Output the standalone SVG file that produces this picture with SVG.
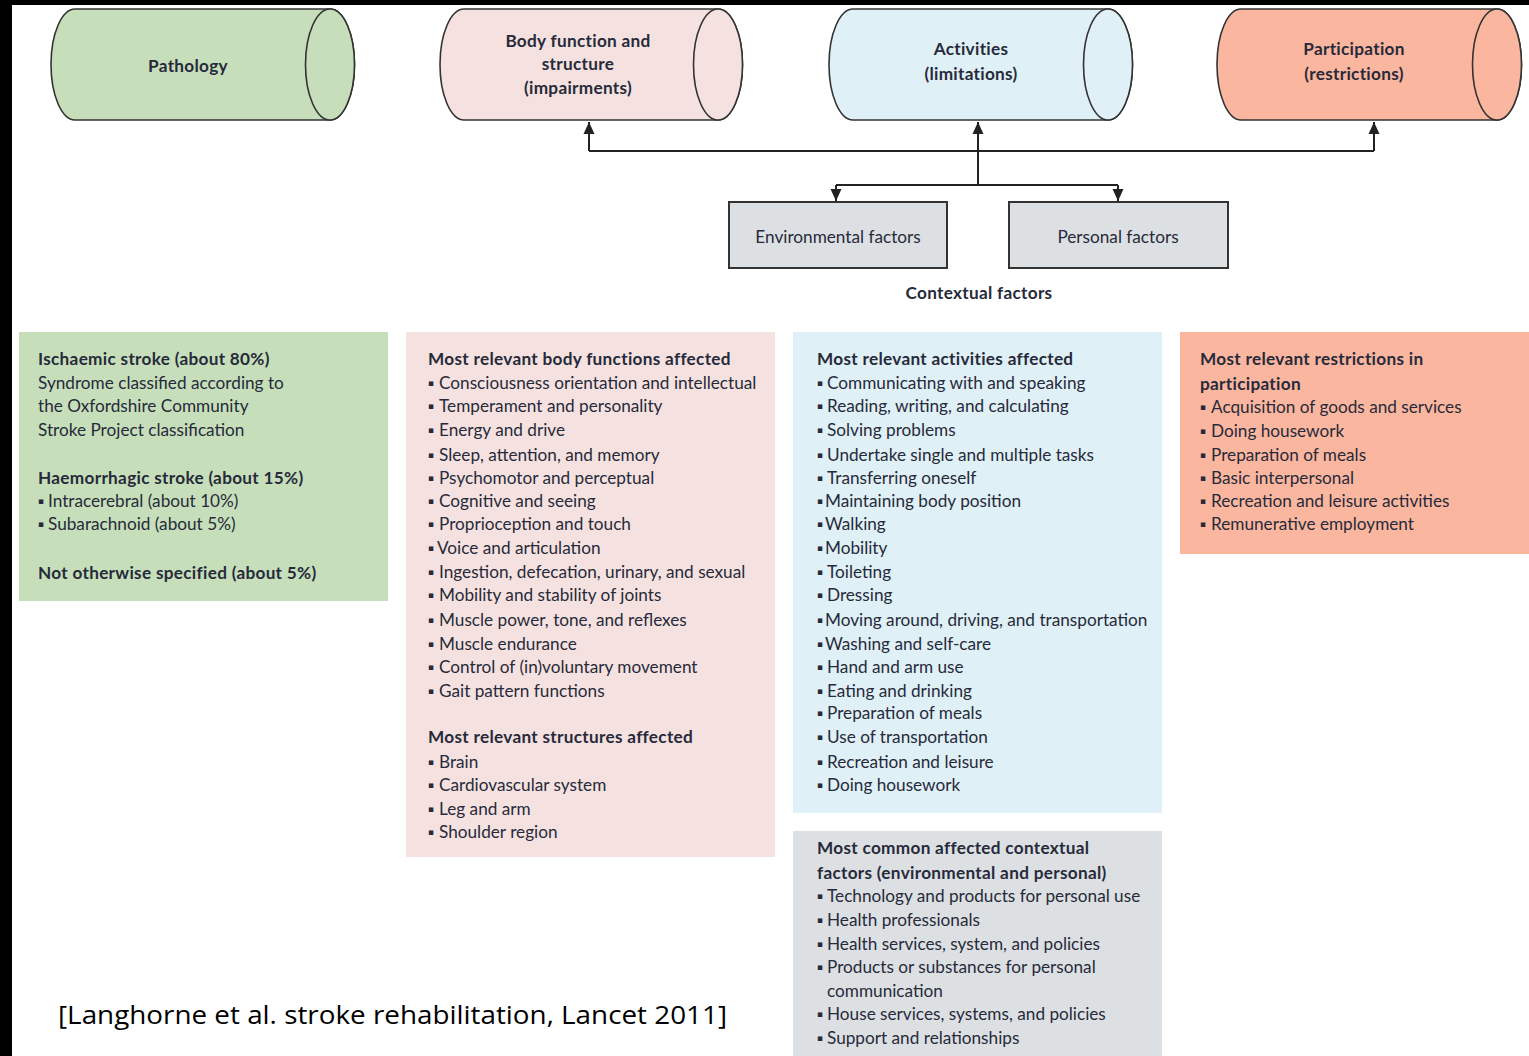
<svg xmlns="http://www.w3.org/2000/svg" width="1529" height="1056" viewBox="0 0 1529 1056">
<style>
.t{font-family:Lato,"Liberation Sans",sans-serif;font-size:17.2px;fill:#272a3a}
.b{font-weight:bold;letter-spacing:0.3px}
.hd{font-family:Lato,"Liberation Sans",sans-serif;font-size:17.2px;font-weight:bold;letter-spacing:0.3px;fill:#272a3a;text-anchor:middle}
.cyl{stroke:#333;stroke-width:1.6}
.bx{fill:#dde0e3;stroke:#333;stroke-width:2}
.cn{fill:none;stroke:#222;stroke-width:2}
.bu{font-family:"DejaVu Sans",sans-serif;font-size:9px;fill:#272a3a}
</style>
<defs>
<marker id="ar" viewBox="0 0 12 12" refX="12" refY="6" markerWidth="12" markerHeight="13" markerUnits="userSpaceOnUse" orient="auto">
<path d="M0,0.5 L12,6 L0,11.5 Z" fill="#222"/>
</marker>
</defs>
<rect x="0" y="0" width="1529" height="1056" fill="#fff"/>
<rect x="0" y="0" width="1529" height="5" fill="#000"/>
<rect x="0" y="0" width="12" height="1056" fill="#000"/>

<g id="pathology">
<path class="cyl" fill="#c6dfba" d="M75,9 H330 A24.5,55.5 0 0 1 330,120 H75 A24,55.5 0 0 1 75,9 Z"/>
<ellipse class="cyl" fill="#c6dfba" cx="330" cy="64.5" rx="24.5" ry="55.5"/>
<text class="hd" x="188" y="72">Pathology</text>
</g>
<g id="body">
<path class="cyl" fill="#f5e2e0" d="M464,9 H718 A24.5,55.5 0 0 1 718,120 H464 A24,55.5 0 0 1 464,9 Z"/>
<ellipse class="cyl" fill="#f5e2e0" cx="718" cy="64.5" rx="24.5" ry="55.5"/>
<text class="hd" x="578" y="47">Body function and</text>
<text class="hd" x="578" y="70">structure</text>
<text class="hd" x="578" y="94">(impairments)</text>
</g>
<g id="activities">
<path class="cyl" fill="#dff0f7" d="M853,9 H1108 A24.5,55.5 0 0 1 1108,120 H853 A24,55.5 0 0 1 853,9 Z"/>
<ellipse class="cyl" fill="#dff0f7" cx="1108" cy="64.5" rx="24.5" ry="55.5"/>
<text class="hd" x="971" y="55">Activities</text>
<text class="hd" x="971" y="80">(limitations)</text>
</g>
<g id="participation">
<path class="cyl" fill="#fbb69f" d="M1241,9 H1497 A24.5,55.5 0 0 1 1497,120 H1241 A24,55.5 0 0 1 1241,9 Z"/>
<ellipse class="cyl" fill="#fbb69f" cx="1497" cy="64.5" rx="24.5" ry="55.5"/>
<text class="hd" x="1354" y="55">Participation</text>
<text class="hd" x="1354" y="80">(restrictions)</text>
</g>

<g id="env">
<rect class="bx" x="729" y="202" width="218" height="66"/>
<text class="t" x="838" y="243" text-anchor="middle" font-size="17.8">Environmental factors</text>
</g>
<g id="pers">
<rect class="bx" x="1009" y="202" width="219" height="66"/>
<text class="t" x="1118" y="243" text-anchor="middle" font-size="17.8">Personal factors</text>
</g>
<g id="contextual">
<text class="hd" x="979" y="299">Contextual factors</text>
</g>

<g id="connectors">
<path class="cn" d="M589,151 H1374"/>
<path class="cn" d="M589,151 V122" marker-end="url(#ar)"/>
<path class="cn" d="M978,185 V122" marker-end="url(#ar)"/>
<path class="cn" d="M1374,151 V122" marker-end="url(#ar)"/>
<path class="cn" d="M836,185 H1118"/>
<path class="cn" d="M836,185 V201" marker-end="url(#ar)"/>
<path class="cn" d="M1118,185 V201" marker-end="url(#ar)"/>
</g>

<g id="panel-pathology">
<rect x="19" y="332" width="369" height="269" fill="#c6dfba"/>
<text class="t b" x="38" y="365">Ischaemic stroke (about 80%)</text>
<text class="t" x="38" y="389">Syndrome classified according to</text>
<text class="t" x="38" y="412">the Oxfordshire Community</text>
<text class="t" x="38" y="436">Stroke Project classification</text>
<text class="t b" x="38" y="484">Haemorrhagic stroke (about 15%)</text>
<text class="t" x="38" y="507"><tspan class="bu" dy="-3">▪</tspan><tspan x="48" dy="3">Intracerebral (about 10%)</tspan></text>
<text class="t" x="38" y="530"><tspan class="bu" dy="-3">▪</tspan><tspan x="48" dy="3">Subarachnoid (about 5%)</tspan></text>
<text class="t b" x="38" y="579">Not otherwise specified (about 5%)</text>
</g>

<g id="panel-body">
<rect x="406" y="332" width="369" height="525" fill="#f5e2e0"/>
<text class="t b" x="428" y="365">Most relevant body functions affected</text>
<text class="t" x="428" y="389"><tspan class="bu" dy="-3">▪</tspan><tspan x="439" dy="3">Consciousness orientation and intellectual</tspan></text>
<text class="t" x="428" y="412"><tspan class="bu" dy="-3">▪</tspan><tspan x="439" dy="3">Temperament and personality</tspan></text>
<text class="t" x="428" y="436"><tspan class="bu" dy="-3">▪</tspan><tspan x="439" dy="3">Energy and drive</tspan></text>
<text class="t" x="428" y="461"><tspan class="bu" dy="-3">▪</tspan><tspan x="439" dy="3">Sleep, attention, and memory</tspan></text>
<text class="t" x="428" y="484"><tspan class="bu" dy="-3">▪</tspan><tspan x="439" dy="3">Psychomotor and perceptual</tspan></text>
<text class="t" x="428" y="507"><tspan class="bu" dy="-3">▪</tspan><tspan x="439" dy="3">Cognitive and seeing</tspan></text>
<text class="t" x="428" y="530"><tspan class="bu" dy="-3">▪</tspan><tspan x="439" dy="3">Proprioception and touch</tspan></text>
<text class="t" x="428" y="554"><tspan class="bu" dy="-3">▪</tspan><tspan x="437" dy="3">Voice and articulation</tspan></text>
<text class="t" x="428" y="578"><tspan class="bu" dy="-3">▪</tspan><tspan x="439" dy="3">Ingestion, defecation, urinary, and sexual</tspan></text>
<text class="t" x="428" y="601"><tspan class="bu" dy="-3">▪</tspan><tspan x="439" dy="3">Mobility and stability of joints</tspan></text>
<text class="t" x="428" y="626"><tspan class="bu" dy="-3">▪</tspan><tspan x="439" dy="3">Muscle power, tone, and reflexes</tspan></text>
<text class="t" x="428" y="650"><tspan class="bu" dy="-3">▪</tspan><tspan x="439" dy="3">Muscle endurance</tspan></text>
<text class="t" x="428" y="673"><tspan class="bu" dy="-3">▪</tspan><tspan x="439" dy="3">Control of (in)voluntary movement</tspan></text>
<text class="t" x="428" y="697"><tspan class="bu" dy="-3">▪</tspan><tspan x="439" dy="3">Gait pattern functions</tspan></text>
<text class="t b" x="428" y="743">Most relevant structures affected</text>
<text class="t" x="428" y="768"><tspan class="bu" dy="-3">▪</tspan><tspan x="439" dy="3">Brain</tspan></text>
<text class="t" x="428" y="791"><tspan class="bu" dy="-3">▪</tspan><tspan x="439" dy="3">Cardiovascular system</tspan></text>
<text class="t" x="428" y="815"><tspan class="bu" dy="-3">▪</tspan><tspan x="439" dy="3">Leg and arm</tspan></text>
<text class="t" x="428" y="838"><tspan class="bu" dy="-3">▪</tspan><tspan x="439" dy="3">Shoulder region</tspan></text>
</g>

<g id="panel-activities">
<rect x="793" y="332" width="369" height="481" fill="#dff0f7"/>
<text class="t b" x="817" y="365">Most relevant activities affected</text>
<text class="t" x="817" y="389"><tspan class="bu" dy="-3">▪</tspan><tspan x="827" dy="3">Communicating with and speaking</tspan></text>
<text class="t" x="817" y="412"><tspan class="bu" dy="-3">▪</tspan><tspan x="827" dy="3">Reading, writing, and calculating</tspan></text>
<text class="t" x="817" y="436"><tspan class="bu" dy="-3">▪</tspan><tspan x="827" dy="3">Solving problems</tspan></text>
<text class="t" x="817" y="461"><tspan class="bu" dy="-3">▪</tspan><tspan x="827" dy="3">Undertake single and multiple tasks</tspan></text>
<text class="t" x="817" y="484"><tspan class="bu" dy="-3">▪</tspan><tspan x="827" dy="3">Transferring oneself</tspan></text>
<text class="t" x="817" y="507"><tspan class="bu" dy="-3">▪</tspan><tspan x="825" dy="3">Maintaining body position</tspan></text>
<text class="t" x="817" y="530"><tspan class="bu" dy="-3">▪</tspan><tspan x="825" dy="3">Walking</tspan></text>
<text class="t" x="817" y="554"><tspan class="bu" dy="-3">▪</tspan><tspan x="825" dy="3">Mobility</tspan></text>
<text class="t" x="817" y="578"><tspan class="bu" dy="-3">▪</tspan><tspan x="827" dy="3">Toileting</tspan></text>
<text class="t" x="817" y="601"><tspan class="bu" dy="-3">▪</tspan><tspan x="827" dy="3">Dressing</tspan></text>
<text class="t" x="817" y="626"><tspan class="bu" dy="-3">▪</tspan><tspan x="825" dy="3">Moving around, driving, and transportation</tspan></text>
<text class="t" x="817" y="650"><tspan class="bu" dy="-3">▪</tspan><tspan x="825" dy="3">Washing and self-care</tspan></text>
<text class="t" x="817" y="673"><tspan class="bu" dy="-3">▪</tspan><tspan x="827" dy="3">Hand and arm use</tspan></text>
<text class="t" x="817" y="697"><tspan class="bu" dy="-3">▪</tspan><tspan x="827" dy="3">Eating and drinking</tspan></text>
<text class="t" x="817" y="719"><tspan class="bu" dy="-3">▪</tspan><tspan x="827" dy="3">Preparation of meals</tspan></text>
<text class="t" x="817" y="743"><tspan class="bu" dy="-3">▪</tspan><tspan x="827" dy="3">Use of transportation</tspan></text>
<text class="t" x="817" y="768"><tspan class="bu" dy="-3">▪</tspan><tspan x="827" dy="3">Recreation and leisure</tspan></text>
<text class="t" x="817" y="791"><tspan class="bu" dy="-3">▪</tspan><tspan x="827" dy="3">Doing housework</tspan></text>
</g>

<g id="panel-participation">
<rect x="1180" y="332" width="349" height="222" fill="#fbb69f"/>
<text class="t b" x="1200" y="365">Most relevant restrictions in</text>
<text class="t b" x="1200" y="390">participation</text>
<text class="t" x="1200" y="413"><tspan class="bu" dy="-3">▪</tspan><tspan x="1211" dy="3">Acquisition of goods and services</tspan></text>
<text class="t" x="1200" y="437"><tspan class="bu" dy="-3">▪</tspan><tspan x="1211" dy="3">Doing housework</tspan></text>
<text class="t" x="1200" y="461"><tspan class="bu" dy="-3">▪</tspan><tspan x="1211" dy="3">Preparation of meals</tspan></text>
<text class="t" x="1200" y="484"><tspan class="bu" dy="-3">▪</tspan><tspan x="1211" dy="3">Basic interpersonal</tspan></text>
<text class="t" x="1200" y="507"><tspan class="bu" dy="-3">▪</tspan><tspan x="1211" dy="3">Recreation and leisure activities</tspan></text>
<text class="t" x="1200" y="530"><tspan class="bu" dy="-3">▪</tspan><tspan x="1211" dy="3">Remunerative employment</tspan></text>
</g>

<g id="panel-contextual">
<rect x="793" y="831" width="369" height="225" fill="#dde0e3"/>
<text class="t b" x="817" y="854">Most common affected contextual</text>
<text class="t b" x="817" y="879">factors (environmental and personal)</text>
<text class="t" x="817" y="902"><tspan class="bu" dy="-3">▪</tspan><tspan x="827" dy="3">Technology and products for personal use</tspan></text>
<text class="t" x="817" y="926"><tspan class="bu" dy="-3">▪</tspan><tspan x="827" dy="3">Health professionals</tspan></text>
<text class="t" x="817" y="950"><tspan class="bu" dy="-3">▪</tspan><tspan x="827" dy="3">Health services, system, and policies</tspan></text>
<text class="t" x="817" y="973"><tspan class="bu" dy="-3">▪</tspan><tspan x="827" dy="3">Products or substances for personal</tspan></text>
<text class="t" x="827" y="997">communication</text>
<text class="t" x="817" y="1020"><tspan class="bu" dy="-3">▪</tspan><tspan x="827" dy="3">House services, systems, and policies</tspan></text>
<text class="t" x="817" y="1044"><tspan class="bu" dy="-3">▪</tspan><tspan x="827" dy="3">Support and relationships</tspan></text>
</g>

<g id="citation">
<text x="58" y="1024" font-family="'Open Sans','Liberation Sans',sans-serif" font-size="26" fill="#000" textLength="669" lengthAdjust="spacingAndGlyphs">[Langhorne et al. stroke rehabilitation, Lancet 2011]</text>
</g>
</svg>
